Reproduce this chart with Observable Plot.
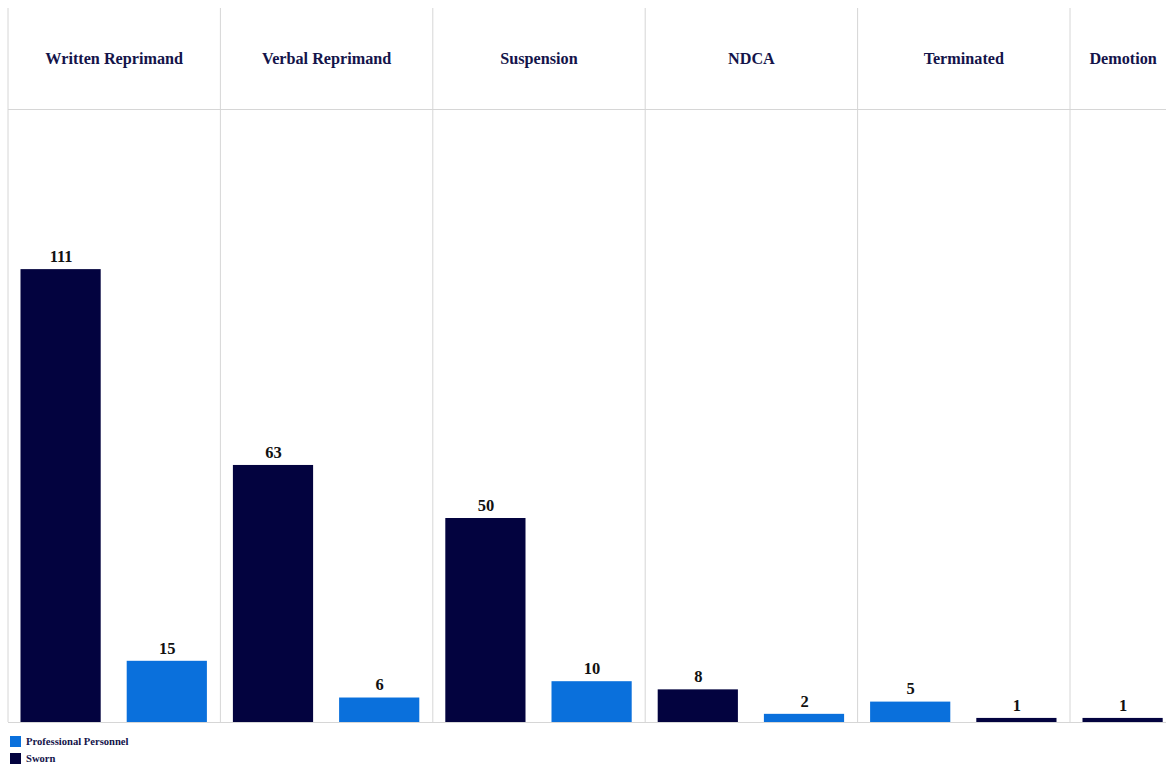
<!DOCTYPE html>
<html>
<head>
<meta charset="utf-8">
<script src="https://cdn.jsdelivr.net/npm/d3@7"></script>
<script src="https://cdn.jsdelivr.net/npm/@observablehq/plot@0.6"></script>
<style>
  html, body { margin: 0; padding: 0; background: #fff; overflow: hidden; }
  #chart svg { display: block; }
  .legend { font-family: "Liberation Serif", serif; font-weight: bold; font-size: 10.6px; color: #14144a; margin-left: 10px; margin-top: 5px; }
  .legend .row { display: flex; align-items: center; height: 17px; }
  .legend .sw { width: 11px; height: 11px; margin-right: 5px; }
</style>
</head>
<body>
<div id="chart"></div>
<div class="legend" id="legend"></div>
<script>
const categories = ["Written Reprimand", "Verbal Reprimand", "Suspension", "NDCA", "Terminated", "Demotion"];
const sworn = [111, 63, 50, 8, 1, 1];
const professional = [15, 6, 10, 2, 5, null];
const seriesNames = ["Professional Personnel", "Sworn"];
const seriesColors = ["#0a70dc", "#03033f"];

// Build rows: within each category, non-empty bars sorted by value (descending)
const rows = [];
const groups = [];
let slot = 0;
categories.forEach((c, k) => {
  const entries = [
    {series: "Sworn", value: sworn[k]},
    {series: "Professional Personnel", value: professional[k]}
  ].filter(d => d.value != null).sort((a, b) => b.value - a.value);
  groups.push({category: c, start: slot, n: entries.length});
  entries.forEach(e => { rows.push({category: c, series: e.series, value: e.value, i: slot}); slot++; });
});
const totalSlots = slot;

const HEADER_LINE = 150.25;
const HEADER_TEXT = 162.7;
const Y_MAX = 175;
const gridColor = "#d6d6d6";

const plot = Plot.plot({
  width: 1166,
  height: 728,
  marginTop: 8,
  marginBottom: 6,
  marginLeft: 8,
  marginRight: 0,
  style: {fontFamily: "Liberation Serif, serif", background: "#fff"},
  x: {type: "linear", domain: [0, totalSlots], range: [7.5, 7.5 + totalSlots * 106.2], axis: null},
  y: {domain: [0, Y_MAX], axis: null},
  color: {domain: seriesNames, range: seriesColors},
  marks: [
    Plot.ruleX(groups, {x: "start", stroke: gridColor, strokeWidth: 1}),
    Plot.ruleY([HEADER_LINE], {stroke: gridColor, strokeWidth: 1.2}),
    Plot.ruleY([0], {stroke: gridColor, strokeWidth: 1.2}),
    Plot.rectY(rows, {x1: "i", x2: d => d.i + 1, y: "value", fill: "series", insetLeft: 13, insetRight: 13}),
    Plot.text(rows, {x: d => d.i + 0.5, y: "value", text: d => String(d.value), dy: -13, fontSize: 16.5, fontWeight: "bold", fill: "#111"}),
    Plot.text(groups, {x: d => d.start + d.n / 2, y: () => HEADER_TEXT, text: "category", fontSize: 16.2, fontWeight: "bold", fill: "#14144a"})
  ]
});
document.getElementById("chart").appendChild(plot);

const legend = document.getElementById("legend");
seriesNames.forEach((s, k) => {
  const row = document.createElement("div");
  row.className = "row";
  const sw = document.createElement("span");
  sw.className = "sw";
  sw.style.background = seriesColors[k];
  const label = document.createElement("span");
  label.textContent = s;
  row.appendChild(sw);
  row.appendChild(label);
  legend.appendChild(row);
});
</script>
</body>
</html>
